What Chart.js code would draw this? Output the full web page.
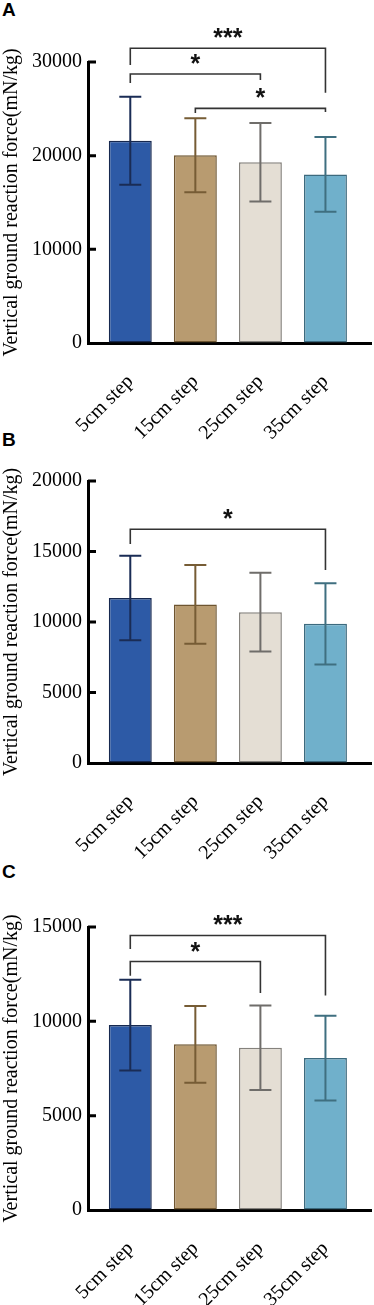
<!DOCTYPE html>
<html>
<head>
<meta charset="utf-8">
<script src="https://cdn.jsdelivr.net/npm/chart.js@4/dist/chart.umd.min.js"></script>
<style>
  html, body { margin: 0; padding: 0; background: #fff; }
  #page { position: relative; width: 374px; height: 1305px; overflow: hidden; }
  .panel { position: absolute; left: 0; width: 374px; }
  .tag { position: absolute; left: 2px; font: bold 19px "Liberation Sans", Arial, sans-serif; color: #000; }
</style>
</head>
<body>
<div id="page">
  <div class="tag" style="top:-1px">A</div>
  <div class="tag" style="top:429px">B</div>
  <div class="tag" style="top:861px">C</div>
  <div class="panel" style="top:0px;height:450px"><canvas id="chartA"></canvas></div>
  <div class="panel" style="top:430px;height:440px"><canvas id="chartB"></canvas></div>
  <div class="panel" style="top:850px;height:455px"><canvas id="chartC"></canvas></div>
</div>
<script>
"use strict";

// categories
const categories = ['5cm step', '15cm step', '25cm step', '35cm step'];

// panel A - means and SD
const meansA = [21600, 20050, 19300, 18000];
const sdA    = [4700, 3950, 4200, 4000];
// panel B
const meansB = [11700, 11250, 10700, 9870];
const sdB    = [3000, 2800, 2800, 2880];
// panel C
const meansC = [9800, 8780, 8600, 8050];
const sdC    = [2400, 2030, 2240, 2240];

// y axis ranges [max, step]
const axisA = [30000, 10000];
const axisB = [20000, 5000];
const axisC = [15000, 5000];

// significance brackets: [from, to, level, left leg end, right leg end, label]
const bracketsA = [
  [0, 3, 31460, 29680, 26720, '***'],
  [0, 2, 28720, 27760, 28080, '*'],
  [1, 3, 25050, 24550, 24660, '*']
];
const bracketsB = [
  [0, 3, 16580, 15530, 13690, '*']
];
const bracketsC = [
  [0, 3, 14550, 13830, 11370, '***'],
  [0, 2, 13170, 12420, 11500, '*']
];

const yTitle = 'Vertical ground reaction force(mN/kg)';

// colours
const fill_colors   = ['#2d5aa6', '#b89b70', '#e4ded4', '#70b0cb'];
const border_colors = ['#16284f', '#6e5530', '#85827d', '#3c6a7e'];
const err_colors    = ['#1a2c55', '#765c35', '#6f6d6a', '#3f6f80'];
const serif = '"Liberation Serif", "Times New Roman", serif';

// error bars, inward ticks, brackets
const extrasPlugin = {
  id: 'extras',
  afterDatasetsDraw(chart) {
    const ctx = chart.ctx;
    const xs = chart.scales.x;
    const ys = chart.scales.y;
    const o = chart.options.plugins.extras;
    ctx.save();
    // error bars
    o.means.forEach((m, i) => {
      const cx = xs.getPixelForValue(i);
      const top = ys.getPixelForValue(m + o.sd[i]);
      const bot = ys.getPixelForValue(m - o.sd[i]);
      ctx.strokeStyle = err_colors[i];
      ctx.lineWidth = 2;
      ctx.beginPath();
      ctx.moveTo(cx, top); ctx.lineTo(cx, bot);
      ctx.moveTo(cx - 11, top); ctx.lineTo(cx + 11, top);
      ctx.moveTo(cx - 11, bot); ctx.lineTo(cx + 11, bot);
      ctx.stroke();
    });
    // y ticks pointing inward
    ctx.strokeStyle = '#000';
    ctx.lineWidth = 3;
    ctx.beginPath();
    ys.ticks.forEach(t => {
      const py = ys.getPixelForValue(t.value);
      if (t.value === 0) return;
      ctx.moveTo(chart.chartArea.left, py);
      ctx.lineTo(chart.chartArea.left + 8, py);
    });
    ctx.stroke();
    // brackets
    ctx.strokeStyle = '#333';
    ctx.lineWidth = 1.6;
    ctx.fillStyle = '#111';
    ctx.font = 'bold 25px "Liberation Sans", Arial, sans-serif';
    ctx.textAlign = 'center';
    ctx.textBaseline = 'alphabetic';
    o.brackets.forEach(b => {
      const x1 = xs.getPixelForValue(b[0]);
      const x2 = xs.getPixelForValue(b[1]);
      const ly = ys.getPixelForValue(b[2]);
      ctx.beginPath();
      ctx.moveTo(x1, ys.getPixelForValue(b[3]));
      ctx.lineTo(x1, ly);
      ctx.lineTo(x2, ly);
      ctx.lineTo(x2, ys.getPixelForValue(b[4]));
      ctx.stroke();
      ctx.fillText(b[5], (x1 + x2) / 2, ly - 2);
    });
    ctx.restore();
  }
};

function makeChart(id, means, sd, axis, brackets, padTop, xHeight) {
  const el = document.getElementById(id);
  return new Chart(el, {
    type: 'bar',
    data: {
      datasets: [{
        data: means.map((v, i) => ({ x: i, y: v })),
        backgroundColor: fill_colors,
        borderColor: border_colors,
        borderWidth: 1.5,
        borderSkipped: false,
        categoryPercentage: 1,
        barPercentage: 0.66
      }]
    },
    options: {
      responsive: true,
      maintainAspectRatio: false,
      animation: false,
      layout: { padding: { top: padTop, left: 0, right: 3, bottom: 0 } },
      plugins: {
        legend: { display: false },
        tooltip: { enabled: false },
        extras: { means: means, sd: sd, brackets: brackets }
      },
      scales: {
        x: {
          type: 'linear',
          min: -0.65,
          max: 3.7,
          offset: false,
          grid: { display: true, offset: false, drawOnChartArea: false, drawTicks: false },
          border: { display: true, color: '#000', width: 3 },
          afterBuildTicks: (scale) => {
            scale.ticks = categories.map((c, i) => ({ value: i }));
          },
          afterFit: (scale) => { scale.height = xHeight; },
          ticks: {
            autoSkip: false,
            minRotation: 45,
            maxRotation: 45,
            padding: 27,
            color: '#000',
            font: { family: serif, size: 20 },
            callback: (v) => categories[v]
          }
        },
        y: {
          min: 0,
          max: axis[0],
          grid: { display: true, drawOnChartArea: false, drawTicks: false },
          border: { display: true, color: '#000', width: 3 },
          afterFit: (scale) => { scale.width = 88; },
          ticks: {
            stepSize: axis[1],
            padding: 6,
            color: '#000',
            font: { family: serif, size: 20 },
            callback: (v) => String(v)
          },
          title: {
            display: true,
            text: yTitle,
            color: '#000',
            padding: 0,
            font: { family: serif, size: 20 }
          }
        }
      }
    },
    plugins: [extrasPlugin]
  });
}

makeChart('chartA', meansA, sdA, axisA, bracketsA, 62, 107);
makeChart('chartB', meansB, sdB, axisB, bracketsB, 51, 107);
makeChart('chartC', meansC, sdC, axisC, bracketsC, 77, 95);
</script>
</body>
</html>
